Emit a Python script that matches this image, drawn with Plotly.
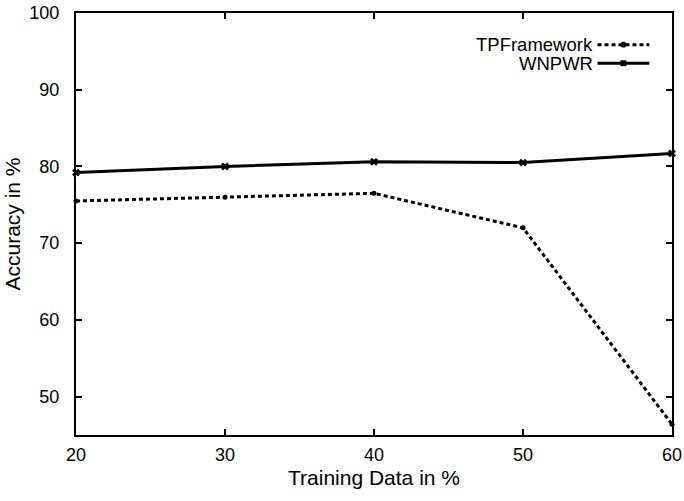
import plotly.graph_objects as go

training_pct = [20, 30, 40, 50, 60]
tp_framework = [75.5, 76.0, 76.5, 72.0, 46.4]
wnpwr = [79.2, 80.0, 80.6, 80.5, 81.7]

series_names = ["TPFramework", "WNPWR"]
x_ticks = [20, 30, 40, 50, 60]
y_ticks = [50, 60, 70, 80, 90, 100]

FONT = "Liberation Sans, Arial, Helvetica, sans-serif"

fig = go.Figure()
fig.add_trace(go.Scatter(
    x=training_pct, y=tp_framework, name=series_names[0], mode="lines+markers",
    line=dict(color="black", width=3, dash="4px,3px"),
    marker=dict(symbol="circle", size=5, color="black"),
    cliponaxis=False, showlegend=False))
fig.add_trace(go.Scatter(
    x=training_pct, y=wnpwr, name=series_names[1], mode="lines+markers",
    line=dict(color="black", width=3),
    marker=dict(symbol="x", size=7, color="black"),
    cliponaxis=False, showlegend=False))

# legend (gnuplot style: text right-aligned, sample to the right)
leg_rows = [(0.925, "4px,3px", "circle"), (0.881, "solid", "x")]
for (yy, dash, sym), name in zip(leg_rows, series_names):
    fig.add_annotation(xref="paper", yref="paper", x=0.871, y=yy, text=name,
                       showarrow=False, xanchor="right", yanchor="middle", height=15,
                       font=dict(family=FONT, size=18.5, color="black"))
    fig.add_shape(type="line", xref="paper", yref="paper", x0=0.875, x1=0.962,
                  y0=yy, y1=yy, line=dict(color="black", width=3, dash=dash))
    fig.add_shape(type="circle" if sym == "circle" else "rect", xref="paper", yref="paper",
                  x0=0.9185 - 0.005, x1=0.9185 + 0.005, y0=yy - 0.007, y1=yy + 0.007,
                  fillcolor="black", line=dict(width=0))

axis_common = dict(showline=True, linecolor="black", linewidth=2, mirror="ticks",
                   ticks="inside", ticklen=6, tickwidth=1.5, tickcolor="black",
                   showgrid=False, zeroline=False, automargin=False,
                   tickfont=dict(family=FONT, size=18, color="black"))

fig.update_layout(
    width=684, height=501,
    margin=dict(l=76, r=12, t=13, b=66),
    paper_bgcolor="white", plot_bgcolor="white",
    font=dict(family=FONT, color="black"),
    xaxis=dict(range=[20, 60], tickvals=x_ticks, ticklabelstandoff=2,
               title=dict(text="Training Data in %", font=dict(family=FONT, size=21), standoff=7),
               **axis_common),
    yaxis=dict(range=[45, 100], tickvals=y_ticks, ticklabelstandoff=11,
               title=dict(text="Accuracy in %", font=dict(family=FONT, size=21), standoff=3),
               **axis_common),
)

fig.write_html("out.html", config={"displayModeBar": False},
               post_script="document.body.style.margin='0';document.body.style.overflow='hidden';")
